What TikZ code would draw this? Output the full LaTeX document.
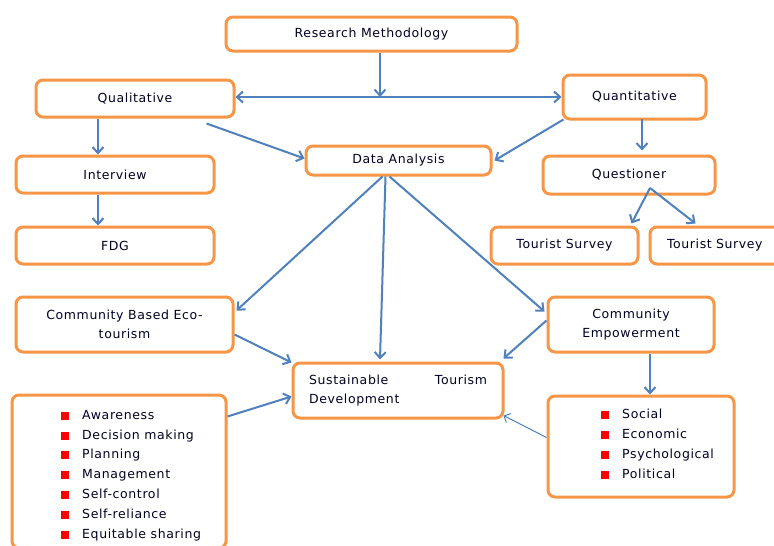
\documentclass[tikz,border=0pt]{standalone}
\usepackage{fontspec}
\setmainfont{DejaVu Sans}[LetterSpace=5]
\usetikzlibrary{arrows.meta,calc}
\definecolor{orangeb}{HTML}{F79646}
\definecolor{blueb}{HTML}{4F81BD}
\newcommand\rbul{\textcolor{red}{\rule[-0.5pt]{8pt}{8pt}}\hspace{13pt}}
\begin{document}
\begin{tikzpicture}[x=1pt,y=-1pt,
  box/.style={draw=orangeb, line width=3pt, rounded corners=7pt, fill=white,
    inner sep=0pt, font=\fontsize{12.5}{19}\selectfont, text=black!85!blue},
  arr/.style={draw=blueb, line width=2pt, -{Straight Barb[length=6pt,width=11pt]}},
  thinarr/.style={draw=blueb, line width=1pt, -{Straight Barb[length=5pt,width=10pt]}},
  listtxt/.style={anchor=north west, align=left, inner sep=0pt,
    font=\fontsize{12.5}{19.8}\selectfont, text=black!85!blue}]
\useasboundingbox (0,0) rectangle (774,546);
\fill[white] (0,0) rectangle (774,546);
\node[box, minimum width=291pt, minimum height=34pt] (rm) at (371.5,34) {Research Methodology};
\node[box, minimum width=198pt, minimum height=37pt] (qual) at (135,98.5) {Qualitative};
\node[box, minimum width=143pt, minimum height=44pt] (quant) at (634.5,97) {Quantitative};
\node[box, minimum width=185pt, minimum height=29pt] (da) at (398.5,160.5) {Data Analysis};
\node[box, minimum width=198pt, minimum height=37pt] (int) at (115,174.5) {Interview};
\node[box, minimum width=172pt, minimum height=38pt] (ques) at (629,175) {Questioner};
\node[box, minimum width=198pt, minimum height=37pt] (fdg) at (115,245.5) {FDG};
\node[box, minimum width=147pt, minimum height=37pt] (ts1) at (564.5,245.5) {Tourist Survey};
\node[box, minimum width=134pt, minimum height=37pt, text width=124pt, align=left] (ts2) at (717,245.5) {\hspace{12pt}Tourist Survey};
\node[box, minimum width=217pt, minimum height=55pt, align=center] (cbe) at (124.5,324.5) {Community Based Eco-\\tourism};
\node[box, minimum width=166pt, minimum height=55pt, align=center] (ce) at (631,324.5) {Community\\Empowerment};
\node[box, minimum width=210pt, minimum height=55pt, align=left] (std) at (398,390.5) {\makebox[178pt][s]{Sustainable\hfill Tourism}\\Development};
\node[box, minimum width=214pt, minimum height=153pt] (aw) at (119,471.5) {};
\node[box, minimum width=186pt, minimum height=101pt] (soc) at (641,446.5) {};
\node[listtxt] (awl) at (61,410) {\rbul Awareness\\ \rbul Decision making\\ \rbul Planning\\ \rbul Management\\ \rbul Self-control\\ \rbul Self-reliance\\ \rbul Equitable sharing};
\node[listtxt] (socl) at (601,409) {\rbul Social\\ \rbul Economic\\ \rbul Psychological\\ \rbul Political};
\coordinate (j) at (380,97);
\coordinate (qa) at (650,188);
\draw[arr] (j |- rm.south) -- (j);
\draw[arr, {Straight Barb[length=6pt,width=11pt]}-{Straight Barb[length=6pt,width=11pt]}] (qual.east |- j) -- (quant.west |- j);
\draw[arr] ($(qual.south)+(-37,0)$) -- ($(int.north)+(-17,0)$);
\draw[arr] ($(int.south)+(-17,0)$) -- ($(fdg.north)+(-17,0)$);
\draw[arr] ($(qual.south east)+(-29,5)$) -- ($(da.west)+(0,-2)$);
\draw[arr] ($(quant.south west)+(2,-1)$) -- ($(da.east)+(2,0)$);
\draw[arr] ($(quant.south)+(7.5,-2)$) -- ($(ques.north)+(13,-4)$);
\draw[arr] (qa) -- ($(ts1.north east)+(-8,-2)$);
\draw[arr] (qa) -- ($(ts2.north west)+(47,-2)$);
\draw[arr] ($(da.south)+(-16,0)$) -- ($(cbe.north east)+(2,15)$);
\draw[arr] ($(da.south)+(-13,0)$) -- ($(std.north)+(-18,-2)$);
\draw[arr] ($(da.south)+(-9,0)$) -- ($(ce.north west)+(-2,16)$);
\draw[arr] ($(cbe.east)+(0,10)$) -- ($(std.north west)+(0,1)$);
\draw[arr] ($(aw.north east)+(0,23)$) -- ($(std.west)+(0,6)$);
\draw[arr] ($(ce.west)+(0,-4)$) -- ($(std.north east)+(-1,-3)$);
\draw[arr] ($(ce.south)+(19,0)$) -- ($(soc.north)+(9,0)$);
\draw[thinarr] ($(soc.west)+(0,-9)$) -- ($(std.south east)+(-1,-4)$);
\end{tikzpicture}
\end{document}
